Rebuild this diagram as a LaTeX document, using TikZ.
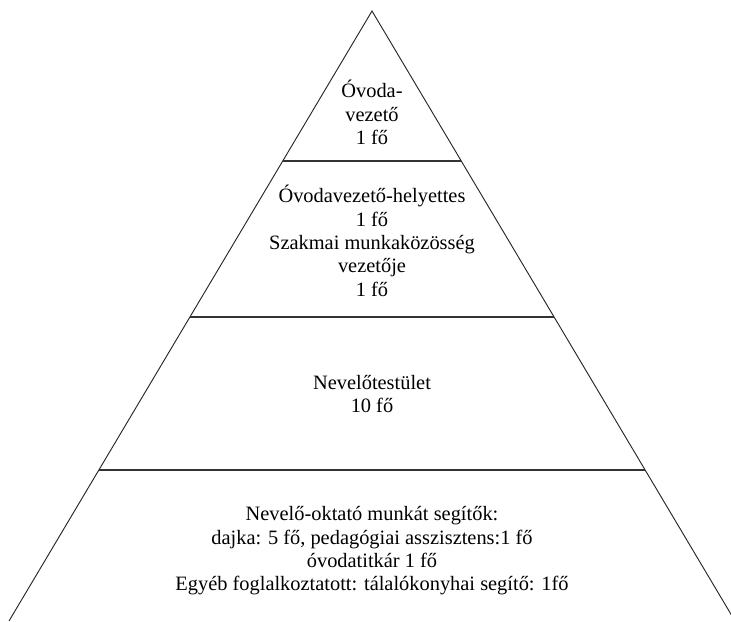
\documentclass[tikz,border=0pt]{standalone}
\usepackage{fontspec}
\setmainfont{Liberation Serif}
\begin{document}
\begin{tikzpicture}[x=0.75pt,y=-0.75pt,
  side/.style={draw=black!85, line width=0.7pt},
  divider/.style={draw=black!80, line width=1.1pt},
  label/.style={align=center, font=\fontsize{15.3}{17.5}\selectfont, inner sep=0pt}]
\useasboundingbox (0,0) rectangle (731,621);
\clip (0,0) rectangle (731,621);
% outline
\coordinate (apex) at (372,11);
\coordinate (bl) at (9,621);
\coordinate (br) at (735,621);
% dividers
\coordinate (l1) at (283,161); \coordinate (r1) at (461,161);
\coordinate (l2) at (190,317); \coordinate (r2) at (554,317);
\coordinate (l3) at (99,470);  \coordinate (r3) at (645,470);
\draw[side] (bl) -- (apex) -- (br);
\draw[divider] (l1) -- (r1);
\draw[divider] (l2) -- (r2);
\draw[divider] (l3) -- (r3);
% labels
\node[label] (lvl1) at (372,112.5) {Óvoda-\\vezető\\1 fő};
\node[label] (lvl2) at (372,241) {Óvodavezető-helyettes\\1 fő\\Szakmai munkaközösség\\vezetője\\1 fő};
\node[label] (lvl3) at (372,394) {Nevelőtestület\\10 fő};
\node[label] (lvl4) at (372,551) {Nevelő-oktató munkát segítők:\\dajka: 5 fő, pedagógiai asszisztens:1 fő\\óvodatitkár 1 fő\\Egyéb foglalkoztatott: tálalókonyhai segítő: 1fő};
\end{tikzpicture}
\end{document}
